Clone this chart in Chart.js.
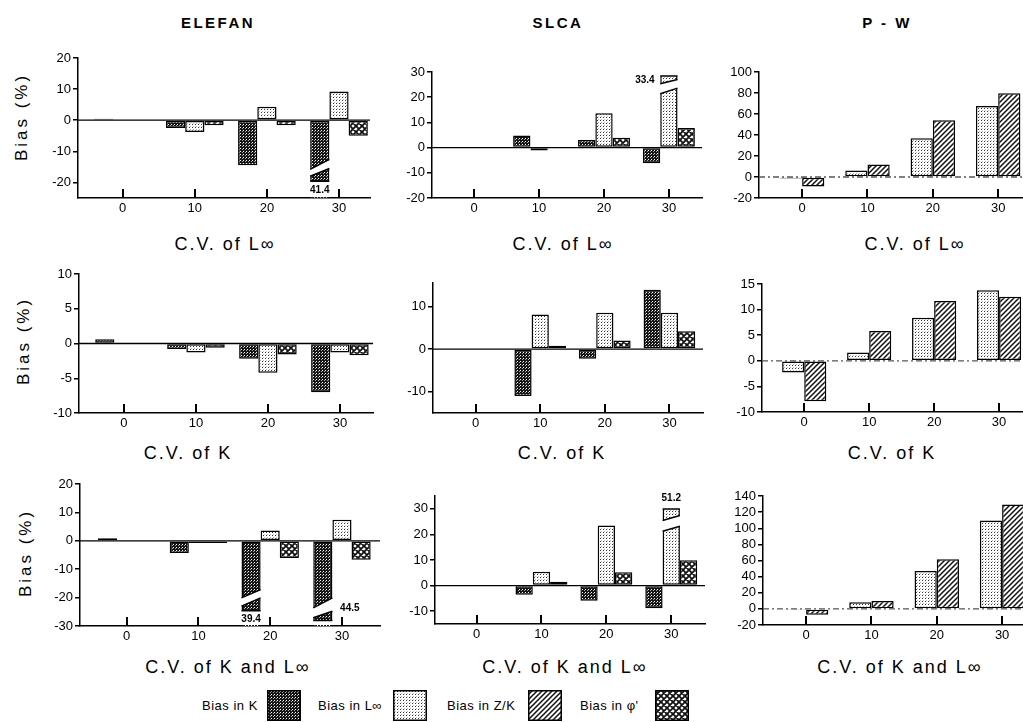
<!DOCTYPE html>
<html>
<head>
<meta charset="utf-8">
<script src="https://cdn.jsdelivr.net/npm/chart.js@4.4.1/dist/chart.umd.min.js"></script>
<style>
html, body { margin: 0; padding: 0; background: #fff; overflow: hidden; width: 1023px; height: 722px; }
#fig { position: relative; width: 1023px; height: 722px; font-family: "Liberation Sans", Arial, sans-serif; color: #000; }
canvas.panel { position: absolute; }
.txt { position: absolute; white-space: nowrap; transform: translate(-50%, -50%); }
.col { font-size: 15px; font-weight: bold; letter-spacing: 2.5px; }
.axt { font-size: 18px; letter-spacing: 2px; }
.yt { font-size: 17px; letter-spacing: 3px; transform: translate(-50%, -50%) rotate(-90deg); }
.leg { position: absolute; font-size: 13px; letter-spacing: 0.5px; white-space: nowrap; transform: translateY(-50%); }
canvas.sw { position: absolute; }
</style>
</head>
<body>
<div id="fig"></div>
<script>
// coefficient of variation levels on every x axis
const cvLevels = [0, 10, 20, 30]
const seriesNames = ['Bias in K', 'Bias in L∞', 'Bias in Z/K', "Bias in φ'"]

// ELEFAN
const elefanL_K = [0.5, -2.5, -14.5, -41.4]
const elefanL_Linf = [0, -3.8, 4.3, 9.2]
const elefanL_phi = [0, -1.6, -1.6, -5.0]
const elefanK_K = [0.6, -0.8, -2.2, -7.0]
const elefanK_Linf = [-0.1, -1.3, -4.2, -1.3]
const elefanK_phi = [0, -0.6, -1.6, -1.7]
const elefanKL_K = [0.9, -4.3, -39.4, -44.5]
const elefanKL_Linf = [0, -0.8, 3.6, 7.4]
const elefanKL_phi = [0, -0.8, -6.1, -6.7]

// SLCA
const slcaL_K = [0, 4.8, 3.0, -6.2]
const slcaL_Linf = [0, -1.2, 13.6, 33.4]
const slcaL_phi = [0, 0, 3.9, 7.8]
const slcaK_K = [0, -11.0, -2.3, 13.9]
const slcaK_Linf = [0, 8.1, 8.5, 8.5]
const slcaK_phi = [0, 0.8, 2.0, 4.2]
const slcaKL_K = [0, -3.6, -5.9, -8.8]
const slcaKL_Linf = [0, 5.4, 23.5, 51.2]
const slcaKL_phi = [0, 1.5, 5.2, 9.9]

// P-W
const pwL_Linf = [-1.5, 6.3, 36.8, 67.6]
const pwL_ZK = [-9.0, 12.0, 54.0, 79.7]
const pwK_Linf = [-2.3, 1.6, 8.4, 13.8]
const pwK_ZK = [-7.9, 5.8, 11.7, 12.5]
const pwKL_Linf = [-1.5, 8.2, 47.0, 109.7]
const pwKL_ZK = [-7.4, 9.9, 61.4, 129.5]

// y tick labels
const ticksElefanL = [-20, -10, 0, 10, 20]
const ticksElefanK = [-10, -5, 0, 5, 10]
const ticksElefanKL = [-30, -20, -10, 0, 10, 20]
const ticksSlcaL = [-20, -10, 0, 10, 20, 30]
const ticksSlcaK = [-10, 0, 10]
const ticksSlcaKL = [-10, 0, 10, 20, 30]
const ticksPwL = [-20, 0, 20, 40, 60, 80, 100]
const ticksPwK = [-10, -5, 0, 5, 10, 15]
const ticksPwKL = [-20, 0, 20, 40, 60, 80, 100, 120, 140]

const yW = 34, xH = 22, padT = 10, padR = 4

let tile = (w, h, paint) => {
    const c = document.createElement('canvas')
    c.width = w
    c.height = h
    paint(c.getContext('2d'))
    return c
}

// fill patterns for the four bias series
const tiles = {
    K: tile(3, 3, g => {
        g.fillStyle = '#151515'; g.fillRect(0, 0, 3, 3)
        g.fillStyle = '#fff'; g.fillRect(1, 1, 1, 1)
        g.fillStyle = '#aaa'; g.fillRect(0, 2, 1, 1)
    }),
    Linf: tile(3, 3, g => {
        g.fillStyle = '#fff'; g.fillRect(0, 0, 3, 3)
        g.fillStyle = '#333'; g.fillRect(1, 1, 1, 1)
        g.fillStyle = '#bbb'; g.fillRect(2, 0, 1, 1)
    }),
    ZK: tile(5, 5, g => {
        g.fillStyle = '#fff'; g.fillRect(0, 0, 5, 5)
        g.strokeStyle = '#111'; g.lineWidth = 1.5
        g.beginPath()
        g.moveTo(-1, 6); g.lineTo(6, -1)
        g.moveTo(-1, 1); g.lineTo(1, -1)
        g.moveTo(4, 6); g.lineTo(6, 4)
        g.stroke()
    }),
    phi: tile(6, 6, g => {
        g.fillStyle = '#fff'; g.fillRect(0, 0, 6, 6)
        g.strokeStyle = '#111'; g.lineWidth = 1.8
        g.beginPath()
        g.moveTo(-1, 7); g.lineTo(7, -1)
        g.moveTo(-1, 1); g.lineTo(1, -1)
        g.moveTo(5, 7); g.lineTo(7, 5)
        g.moveTo(-1, -1); g.lineTo(7, 7)
        g.moveTo(-1, 5); g.lineTo(1, 7)
        g.moveTo(5, -1); g.lineTo(7, 1)
        g.stroke()
    })
}
const seriesTiles = [tiles.K, tiles.Linf, tiles.ZK, tiles.phi]

const panels = [
    { rect: [78, 58, 370, 198], x: [-6.2, 34.3], y: [-25, 20], ticks: ticksElefanL, group: 0.8,
      series: [[0, elefanL_K], [1, elefanL_Linf], [3, elefanL_phi]],
      breaks: [{ ds: 0, idx: 3, stub: [-15.8, -12.6], piece: [-18, -15.5], end: -19.6, label: [0, -22.5] }] },
    { rect: [432, 72, 702, 198], x: [-6.5, 35.1], y: [-20, 30], ticks: ticksSlcaL, group: 0.8,
      series: [[0, slcaL_K], [1, slcaL_Linf], [3, slcaL_phi]],
      breaks: [{ ds: 1, idx: 3, stub: [21.4, 23.6], piece: [25.3, 27], end: 28.4, label: [-24, 26.7] }] },
    { rect: [759, 72, 1040, 198], x: [-6.6, 36.4], y: [-20, 100], ticks: ticksPwL, group: 0.68, dashed: true,
      series: [[1, pwL_Linf], [2, pwL_ZK]], breaks: [] },

    { rect: [79, 274, 373, 413], x: [-6.25, 34.6], y: [-10, 10], ticks: ticksElefanK, group: 0.8,
      series: [[0, elefanK_K], [1, elefanK_Linf], [3, elefanK_phi]], breaks: [] },
    { rect: [433, 283, 703, 413], x: [-6.6, 35.2], y: [-15, 15.5], ticks: ticksSlcaK, group: 0.8,
      series: [[0, slcaK_K], [1, slcaK_Linf], [3, slcaK_phi]], breaks: [] },
    { rect: [762, 284, 1040, 412], x: [-6.5, 36.3], y: [-10, 15], ticks: ticksPwK, group: 0.68, dashed: true,
      series: [[1, pwK_Linf], [2, pwK_ZK]], breaks: [] },

    { rect: [80, 484, 380, 626], x: [-6.5, 35.3], y: [-30, 20], ticks: ticksElefanKL, group: 0.8,
      series: [[0, elefanKL_K], [1, elefanKL_Linf], [3, elefanKL_phi]],
      breaks: [
          { ds: 0, idx: 2, stub: [-20.1, -17.2], piece: [-23.0, -20.1], end: -24.6, label: [0, -27.7] },
          { ds: 0, idx: 3, stub: [-23.6, -20.1], piece: [-27.1, -24.8], end: -28.1, label: [27, -23.9] }
      ] },
    { rect: [435, 496, 705, 624], x: [-6.4, 35.2], y: [-15, 35], ticks: ticksSlcaKL, group: 0.8,
      series: [[0, slcaKL_K], [1, slcaKL_Linf], [3, slcaKL_phi]],
      breaks: [{ ds: 1, idx: 3, stub: [21.2, 23.2], piece: [25.4, 27.4], end: 29.9, label: [0, 34.0] }] },
    { rect: [763, 496, 1040, 625], x: [-6.6, 35.8], y: [-20, 140], ticks: ticksPwKL, group: 0.68, dashed: true,
      series: [[1, pwKL_Linf], [2, pwKL_ZK]], breaks: [] }
]

const texts = [
    ['col', 'ELEFAN', 218, 22], ['col', 'SLCA', 558, 22], ['col', 'P - W', 887, 22],
    ['axt', 'C.V. of L∞', 225, 244], ['axt', 'C.V. of L∞', 563, 244], ['axt', 'C.V. of L∞', 915, 244],
    ['axt', 'C.V. of K', 188, 453], ['axt', 'C.V. of K', 562, 453], ['axt', 'C.V. of K', 892, 453],
    ['axt', 'C.V. of K and L∞', 228, 667], ['axt', 'C.V. of K and L∞', 565, 667], ['axt', 'C.V. of K and L∞', 900, 667],
    ['yt', 'Bias (%)', 22, 117], ['yt', 'Bias (%)', 24, 341], ['yt', 'Bias (%)', 26, 553]
]

// legend: text left edge, swatch left edge
const legendSpots = [[202, 267], [318, 393], [447, 528], [580, 655]]

// zero line, broken bars and the upward marks on the x axis
const axisMarks = {
    id: 'axisMarks',
    beforeDatasetsDraw(chart, args, opts) {
        const { ctx, chartArea, scales } = chart
        const y0 = scales.y.getPixelForValue(0)
        ctx.save()
        ctx.strokeStyle = opts.dashed ? '#555' : '#000'
        ctx.lineWidth = 1.3
        if (opts.dashed) ctx.setLineDash([6, 3, 2, 3])
        ctx.beginPath()
        ctx.moveTo(chartArea.left, y0)
        ctx.lineTo(chartArea.right, y0)
        ctx.stroke()
        ctx.restore()
    },
    afterDatasetsDraw(chart, args, opts) {
        const { ctx, chartArea, scales } = chart
        const Y = v => scales.y.getPixelForValue(v)
        ctx.save()
        ;(opts.breaks || []).forEach(bk => {
            const el = chart.getDatasetMeta(bk.ds).data[bk.idx]
            const v = chart.data.datasets[bk.ds].data[bk.idx].y
            const xl = el.x - el.width / 2, xr = el.x + el.width / 2
            const edge = v < 0 ? chartArea.bottom - 1 : chartArea.top
            ctx.fillStyle = '#fff'
            ctx.beginPath()
            ctx.moveTo(xl - 1, Y(bk.stub[0]))
            ctx.lineTo(xr + 1, Y(bk.stub[1]))
            ctx.lineTo(xr + 1, Y(bk.piece[1]))
            ctx.lineTo(xl - 1, Y(bk.piece[0]))
            ctx.closePath()
            ctx.fill()
            ctx.fillRect(xl - 1, Math.min(Y(bk.end), edge), xr - xl + 2, Math.abs(edge - Y(bk.end)))
            ctx.strokeStyle = '#000'
            ctx.lineWidth = 1.5
            ctx.beginPath()
            ctx.moveTo(xl, Y(bk.stub[0])); ctx.lineTo(xr, Y(bk.stub[1]))
            ctx.moveTo(xl, Y(bk.piece[0])); ctx.lineTo(xr, Y(bk.piece[1]))
            ctx.moveTo(xl, Y(bk.end)); ctx.lineTo(xr, Y(bk.end))
            ctx.stroke()
            ctx.fillStyle = '#000'
            ctx.font = 'bold 10px "Liberation Sans", Arial, sans-serif'
            ctx.textAlign = 'center'
            ctx.textBaseline = 'middle'
            ctx.fillText(Math.abs(v).toFixed(1), el.x + bk.label[0], Y(bk.label[1]))
        })
        ctx.restore()
    },
    afterDraw(chart) {
        const { ctx, chartArea, scales } = chart
        ctx.save()
        ctx.fillStyle = '#000'
        cvLevels.forEach(v => {
            const x = Math.round(scales.x.getPixelForValue(v))
            ctx.fillRect(x - 1, chartArea.bottom - 9, 2, 9)
        })
        ctx.restore()
    }
}

let drawPanel = (p) => {
    const [l, t, r, b] = p.rect
    const cv = document.createElement('canvas')
    cv.className = 'panel'
    cv.width = r - l + yW + padR
    cv.height = b - t + padT + xH
    cv.style.left = (l - yW) + 'px'
    cv.style.top = (t - padT) + 'px'
    document.getElementById('fig').appendChild(cv)
    const ctx = cv.getContext('2d')

    const datasets = p.series.map(([s, vals]) => ({
        label: seriesNames[s],
        data: cvLevels.map((x, i) => ({ x: x, y: vals[i] })),
        backgroundColor: ctx.createPattern(seriesTiles[s], 'repeat'),
        borderColor: '#000',
        borderWidth: 1.5,
        borderSkipped: false,
        barPercentage: 1,
        categoryPercentage: p.group,
        clip: 0
    }))

    new Chart(ctx, {
        type: 'bar',
        data: { datasets: datasets },
        options: {
            responsive: false,
            animation: false,
            events: [],
            layout: { padding: { top: padT, right: padR, left: 0, bottom: 0 } },
            plugins: {
                legend: { display: false },
                tooltip: { enabled: false },
                axisMarks: { breaks: p.breaks, dashed: !!p.dashed }
            },
            scales: {
                x: {
                    type: 'linear',
                    offset: false,
                    min: p.x[0],
                    max: p.x[1],
                    afterFit: s => { s.height = xH },
                    afterBuildTicks: s => { s.ticks = cvLevels.map(v => ({ value: v })) },
                    grid: { display: false, offset: false, drawTicks: false },
                    border: { display: true, color: '#000', width: 1.5 },
                    ticks: { color: '#000', padding: 3, maxRotation: 0, autoSkip: false, font: { size: 13 } }
                },
                y: {
                    min: p.y[0],
                    max: p.y[1],
                    afterFit: s => { s.width = yW },
                    afterBuildTicks: s => { s.ticks = p.ticks.map(v => ({ value: v })) },
                    grid: { display: true, drawOnChartArea: false, drawTicks: true, tickLength: 5, color: '#000', lineWidth: 1.5 },
                    border: { display: true, color: '#000', width: 1.5 },
                    ticks: { color: '#000', padding: 2, autoSkip: false, font: { size: 13 } }
                }
            }
        },
        plugins: [axisMarks]
    })
}

let drawTexts = () => {
    const fig = document.getElementById('fig')
    texts.forEach(([cls, str, x, y]) => {
        const d = document.createElement('div')
        d.className = 'txt ' + cls
        d.textContent = str
        d.style.left = x + 'px'
        d.style.top = y + 'px'
        fig.appendChild(d)
    })
    seriesNames.forEach((name, i) => {
        const [tx, sx] = legendSpots[i]
        const d = document.createElement('div')
        d.className = 'leg'
        d.textContent = name
        d.style.left = tx + 'px'
        d.style.top = '705px'
        fig.appendChild(d)
        const sw = document.createElement('canvas')
        sw.className = 'sw'
        sw.width = 34
        sw.height = 31
        sw.style.left = sx + 'px'
        sw.style.top = '690px'
        const g = sw.getContext('2d')
        g.fillStyle = g.createPattern(seriesTiles[i], 'repeat')
        g.fillRect(0, 0, 34, 31)
        g.strokeStyle = '#000'
        g.lineWidth = 1.5
        g.strokeRect(0.75, 0.75, 32.5, 29.5)
        fig.appendChild(sw)
    })
}

window.addEventListener('DOMContentLoaded', (event) => {
    Chart.defaults.font.family = '"Liberation Sans", Arial, sans-serif'
    Chart.defaults.color = '#000'
    panels.forEach(drawPanel)
    drawTexts()
})
</script>
</body>
</html>
